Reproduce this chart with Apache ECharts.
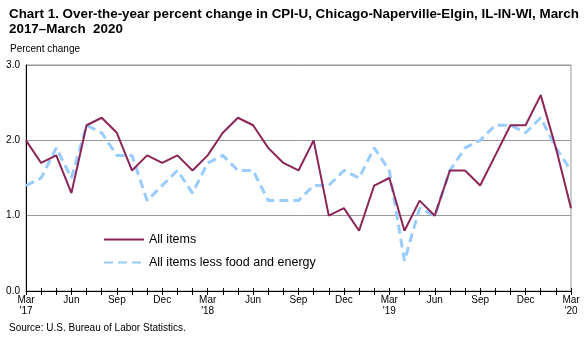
<!DOCTYPE html>
<html><head><meta charset="utf-8">
<script src="https://cdn.jsdelivr.net/npm/echarts@6/dist/echarts.min.js"></script>
<style>html,body{margin:0;padding:0;background:#fff}#c{width:588px;height:337px}</style>
</head><body><div id="c"></div>
<script>
var months = ['Mar','Apr','May','Jun','Jul','Aug','Sep','Oct','Nov','Dec','Jan','Feb'];
var categories = [];
for (var y = 17; y <= 20; y++) {
  for (var m = 0; m < 12; m++) {
    if (y === 20 && m > 0) break;
    categories.push(months[m] + (m === 0 ? "\n'" + y : ''));
  }
}
var allItems = [2.0,1.7,1.8,1.3,2.2,2.3,2.1,1.6,1.8,1.7,1.8,1.6,
                1.8,2.1,2.3,2.2,1.9,1.7,1.6,2.0,1.0,1.1,0.8,1.4,
                1.5,0.8,1.2,1.0,1.6,1.6,1.4,1.8,2.2,2.2,2.6,1.9,1.1];
var coreItems = [1.4,1.5,1.9,1.5,2.2,2.1,1.8,1.8,1.2,1.4,1.6,1.3,
                 1.7,1.8,1.6,1.6,1.2,1.2,1.2,1.4,1.4,1.6,1.5,1.9,
                 1.6,0.4,1.1,1.0,1.6,1.9,2.0,2.2,2.2,2.1,2.3,1.9,1.6];
var yTicks = [0, 1, 2, 3];

var chart = echarts.init(document.getElementById('c'));
var F = 'Arial, "Liberation Sans", sans-serif';
chart.setOption({
  animation: false,
  title: [
    {text: 'Chart 1. Over-the-year percent change in CPI-U, Chicago-Naperville-Elgin, IL-IN-WI, March\n2017\u2013March  2020',
     left: 4, top: 2, textStyle: {fontFamily: F, fontWeight: 'bold', fontSize: 13.4, color: '#000', lineHeight: 15}},
    {text: 'Percent change', left: 5, top: 39, textStyle: {fontFamily: F, fontWeight: 'normal', fontSize: 10, color: '#000'}},
    {text: 'Source: U.S. Bureau of Labor Statistics.', left: 4, top: 318, textStyle: {fontFamily: F, fontWeight: 'normal', fontSize: 10, color: '#000'}}
  ],
  grid: {left: 26, right: 17, top: 65, bottom: 46, show: true, borderColor: '#999', borderWidth: 1},
  legend: {
    orient: 'vertical', left: 98, top: 228, itemWidth: 40, itemHeight: 10, itemGap: 10,
    textStyle: {fontFamily: F, fontSize: 12.5, color: '#000'},
    itemStyle: {opacity: 0},
    data: ['All items', 'All items less food and energy']
  },
  xAxis: [{
    type: 'category', data: categories, boundaryGap: false,
    axisLine: {lineStyle: {color: '#000', width: 1}},
    axisTick: {interval: 0, length: 4, lineStyle: {color: '#000'}},
    axisLabel: {interval: 2, fontFamily: F, fontSize: 10, color: '#000', lineHeight: 11, margin: 4},
    splitLine: {show: false}
  }, {
    type: 'category', data: categories, boundaryGap: false, position: 'bottom',
    axisLine: {show: false},
    axisTick: {interval: 0, inside: true, length: 3, lineStyle: {color: '#000'}},
    axisLabel: {show: false}, splitLine: {show: false}
  }],
  yAxis: {
    type: 'value', min: yTicks[0], max: yTicks[yTicks.length - 1], interval: 1,
    axisLine: {show: true, lineStyle: {color: '#000'}},
    axisTick: {show: false},
    axisLabel: {fontFamily: F, fontSize: 10, color: '#000', margin: 6,
      formatter: function (v) { return v.toFixed(1); }},
    splitLine: {lineStyle: {color: '#999', width: 1}}
  },
  series: [
    {name: 'All items', type: 'line', data: allItems, symbol: 'none',
     lineStyle: {color: '#8B2558', width: 2}, itemStyle: {color: '#8B2558'}, z: 3},
    {name: 'All items less food and energy', type: 'line', data: coreItems, symbol: 'none',
     lineStyle: {color: '#99CCFF', width: 3, type: [9, 5]}, itemStyle: {color: '#99CCFF'}, z: 2}
  ]
});
</script></body></html>
